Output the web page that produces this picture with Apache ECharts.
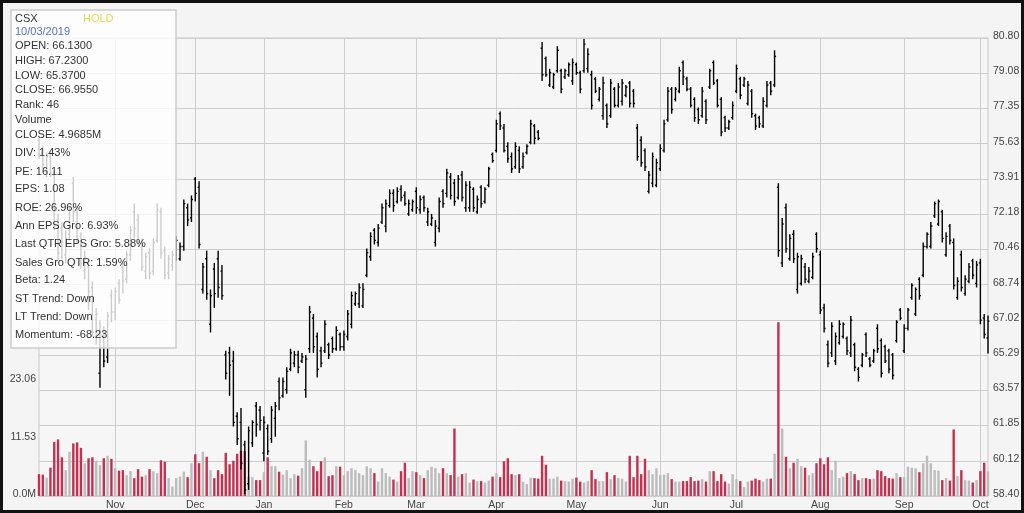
<!DOCTYPE html>
<html><head><meta charset="utf-8">
<script src="https://cdn.jsdelivr.net/npm/echarts@6/dist/echarts.min.js"></script>
<style>html,body{margin:0;padding:0;background:#f4f4f4;}#c{width:1024px;height:513px;}</style>
</head><body><div id="c"></div>
<script>
// ---------- DATA ----------
const tradingMonths = [
 [2018,10,[4,5,8,9,10,11,12,15,16,17,18,19,22,23,24,25,26,29,30,31]],
 [2018,11,[1,2,5,6,7,8,9,12,13,14,15,16,19,20,21,23,26,27,28,29,30]],
 [2018,12,[3,4,6,7,10,11,12,13,14,17,18,19,20,21,26,27,28,31]],
 [2019,1,[2,3,4,7,8,9,10,11,14,15,16,17,18,22,23,24,25,28,29,30,31]],
 [2019,2,[1,4,5,6,7,8,11,12,13,14,15,19,20,21,22,25,26,27,28]],
 [2019,3,[1,4,5,6,7,8,11,12,13,14,15,18,19,20,21,22,25,26,27,28,29]],
 [2019,4,[1,2,3,4,5,8,9,10,11,12,15,16,17,18,22,23,24,25,26,29,30]],
 [2019,5,[1,2,3,6,7,8,9,10,13,14,15,16,17,20,21,22,23,24,28,29,30,31]],
 [2019,6,[3,4,5,6,7,10,11,12,13,14,17,18,19,20,21,24,25,26,27,28]],
 [2019,7,[1,2,3,5,8,9,10,11,12,15,16,17,18,19,22,23,24,25,26,29,30,31]],
 [2019,8,[1,2,5,6,7,8,9,12,13,14,15,16,19,20,21,22,23,26,27,28,29,30]],
 [2019,9,[3,4,5,6,9,10,11,12,13,16,17,18,19,20,23,24,25,26,27,30]],
 [2019,10,[1,2,3]]
];
const monthNames = ['Jan','Feb','Mar','Apr','May','Jun','Jul','Aug','Sep','Oct','Nov','Dec'];
const priceTicks = ['58.40','60.12','61.85','63.57','65.29','67.02','68.74','70.46','72.18','73.91','75.63','77.35','79.08','80.80'];

const opens = [
 75.8,75.2,74.3,75.0,74.1,71.9,71.5,70.2,71.2,73.7,
 72.4,71.1,69.4,69.6,68.6,66.2,64.4,66.4,65.2,68.2,
 67.4,68.8,69.6,69.0,70.2,72.3,71.9,70.8,69.4,70.3,
 69.4,70.9,72.3,70.4,69.3,69.7,70.0,70.0,70.6,72.5,
 72.0,73.9,73.5,68.5,70.0,66.8,69.5,70.0,69.4,65.3,
 65.4,65.0,62.3,62.0,60.9,59.0,61.0,62.8,62.6,60.5,
 61.7,61.2,62.2,64.0,63.3,63.6,64.6,64.9,65.3,65.0,
 63.6,65.6,67.1,66.2,65.5,65.5,65.8,66.1,65.6,66.3,
 65.7,66.2,66.8,67.8,67.8,67.7,69.2,70.1,71.4,70.8,
 71.8,71.6,72.6,73.2,72.8,73.4,73.1,72.2,72.4,73.3,
 72.4,73.0,71.8,71.7,70.8,71.5,73.3,73.2,74.0,73.7,
 73.0,74.1,72.5,72.5,73.4,72.3,73.5,72.8,73.6,75.1,
 75.3,77.1,76.4,75.5,75.0,74.5,75.3,74.5,75.2,75.7,
 76.5,76.2,80.3,79.8,78.5,78.4,79.2,79.2,78.9,79.0,
 78.7,79.5,79.1,79.2,79.3,79.0,78.8,77.8,77.0,77.5,
 77.0,78.3,77.5,77.7,78.0,78.6,78.2,76.4,75.8,75.3,
 73.3,73.7,73.6,74.4,75.3,76.8,78.3,77.8,78.2,79.6,
 78.8,78.3,77.8,77.3,77.0,77.7,78.4,79.6,78.7,77.8,
 76.9,76.4,76.9,78.2,78.8,78.5,77.6,78.2,77.0,76.9,
 76.5,77.5,78.6,78.5,73.5,69.8,72.5,70.0,71.2,68.5,
 68.8,69.6,68.9,69.1,71.2,70.2,67.6,65.8,65.4,65.0,
 65.9,66.2,66.1,65.4,65.8,64.6,64.8,66.3,65.1,65.0,
 66.6,66.0,65.7,65.5,65.3,66.0,67.5,65.5,66.6,68.1,
 67.3,69.0,69.2,70.6,70.6,72.1,71.7,72.3,70.2,71.6,
 70.8,68.1,70.2,68.3,68.9,69.9,68.8,69.8,67.1,66.13
];
const highs = [
 76.0,75.5,75.2,75.3,74.3,72.2,71.8,71.4,72.6,74.0,
 72.6,71.3,70.4,70.0,68.9,67.6,67.0,66.7,67.4,68.5,
 68.6,69.0,69.9,70.4,71.6,72.7,72.2,71.0,70.3,70.5,
 71.0,72.7,72.5,70.6,70.2,70.4,71.1,70.8,72.9,72.7,
 73.1,74.0,73.8,69.8,70.4,68.5,69.8,70.4,69.7,65.5,
 65.7,65.5,62.5,62.7,61.1,61.8,62.1,63.0,62.8,62.3,
 61.9,62.8,63.0,64.2,64.2,64.7,65.6,65.5,65.5,65.4,
 65.3,67.7,67.3,66.4,65.7,67.0,65.9,66.2,66.7,66.4,
 66.5,67.5,68.4,68.4,68.8,68.8,70.5,71.3,71.5,71.7,
 72.7,72.9,73.4,73.4,73.5,73.6,73.3,72.9,72.9,73.5,
 73.1,73.1,72.5,72.2,71.9,73.0,73.4,74.4,74.2,73.9,
 74.1,74.3,73.8,73.8,73.5,73.1,73.6,73.5,74.5,75.2,
 76.8,77.2,76.6,75.7,75.2,75.7,75.5,75.2,75.6,76.8,
 76.6,76.3,80.6,79.9,79.3,79.1,80.4,79.3,79.3,79.6,
 79.8,79.6,79.2,80.75,80.3,79.2,78.9,78.4,78.9,77.6,
 78.8,78.4,78.6,78.8,78.5,78.7,78.3,76.6,76.0,75.4,
 74.3,75.2,74.9,75.6,76.8,78.4,78.4,78.4,79.4,79.7,
 78.9,78.4,77.9,77.4,78.4,77.8,79.3,79.7,78.8,77.9,
 77.0,76.8,77.7,79.5,78.9,78.9,78.7,78.3,77.1,77.0,
 77.9,78.7,78.7,80.2,73.7,72.0,72.7,71.2,71.4,70.3,
 70.2,69.8,69.6,70.3,71.3,70.4,67.8,66.0,66.9,66.4,
 67.0,66.9,66.2,67.2,65.9,64.7,65.4,66.4,65.2,65.6,
 66.8,66.1,65.8,65.6,65.4,67.0,67.6,66.8,67.6,68.8,
 68.6,69.1,70.8,71.3,71.8,72.8,72.9,72.4,71.3,71.7,
 71.0,69.1,70.4,69.2,69.8,70.0,69.9,70.0,67.3,67.23
];
const lows = [
 74.9,74.4,74.0,74.0,71.4,69.9,70.0,69.8,70.9,71.8,
 70.8,69.5,69.0,67.5,66.2,65.8,63.7,64.7,64.9,66.9,
 67.0,67.8,68.3,68.8,69.9,71.0,70.6,69.4,69.0,69.0,
 69.2,70.8,70.0,69.0,69.0,69.4,69.9,69.9,70.4,71.6,
 71.8,72.8,70.5,68.3,68.0,66.4,67.6,68.1,68.0,64.1,
 63.3,61.8,60.9,59.7,58.5,58.7,60.8,61.3,61.6,60.1,
 60.4,61.0,61.3,62.6,63.2,63.4,64.5,64.7,64.4,64.9,
 63.2,65.4,65.4,64.2,64.7,65.4,65.1,65.4,65.5,65.5,
 65.5,66.0,66.6,67.7,67.6,67.6,69.1,69.9,70.7,70.6,
 71.7,71.3,72.5,72.3,72.7,72.8,72.6,72.1,72.3,72.2,
 72.2,72.3,71.6,71.6,70.6,71.3,72.5,73.0,72.9,72.6,
 72.9,72.8,72.3,72.3,72.3,72.2,72.5,72.7,73.5,74.7,
 75.2,76.3,75.2,74.7,74.2,74.4,74.2,74.4,75.1,75.6,
 75.6,75.8,78.7,78.9,78.4,78.3,79.1,78.1,78.8,78.9,
 78.5,79.0,78.1,79.1,79.1,77.3,78.1,77.7,76.8,76.4,
 76.9,77.4,77.4,77.5,77.9,77.4,77.4,74.8,74.5,74.3,
 73.2,73.5,73.5,74.3,75.2,76.7,77.1,77.7,78.1,78.5,
 78.2,77.4,76.7,76.6,76.9,76.6,78.3,78.5,77.4,76.0,
 76.2,76.3,76.8,78.1,77.8,78.4,77.5,76.9,76.3,76.4,
 76.4,77.4,78.0,78.4,70.1,69.6,70.3,69.9,69.8,68.3,
 68.7,68.8,68.8,69.0,70.3,67.3,66.4,64.7,65.2,64.8,
 65.8,66.1,65.3,65.2,64.5,64.0,64.7,65.2,64.7,64.9,
 65.4,64.2,64.9,64.4,64.1,65.9,67.0,65.4,66.5,68.0,
 67.2,68.0,69.1,70.5,70.5,72.0,71.6,70.8,70.1,70.7,
 68.5,68.0,68.4,68.2,68.8,69.0,68.6,66.8,66.1,65.37
];
const closes = [
 75.1,74.6,75.0,74.2,71.6,70.3,70.8,71.0,72.4,72.3,
 71.0,69.8,70.1,68.4,66.4,67.3,66.3,65.0,67.2,67.4,
 68.4,68.0,68.9,70.2,71.4,71.5,70.8,69.6,70.1,69.3,
 70.8,72.4,70.3,69.2,70.0,70.2,70.9,70.6,72.7,71.9,
 72.9,73.2,70.7,69.6,68.3,68.2,68.3,68.6,68.2,64.4,
 64.8,62.0,61.2,60.0,58.7,61.6,62.0,61.9,62.1,62.0,
 60.6,62.6,62.8,63.2,64.0,64.5,65.4,65.3,64.7,65.2,
 65.1,67.4,65.7,64.6,64.9,66.8,65.3,65.6,66.5,65.7,
 66.3,67.3,68.2,68.3,68.6,68.5,70.3,71.1,70.9,71.5,
 72.5,72.7,73.2,72.6,73.3,73.0,72.7,72.7,72.8,72.5,
 72.9,72.5,72.3,72.0,71.6,72.8,72.7,74.2,73.1,72.8,
 73.9,73.0,73.6,73.5,72.5,72.9,72.7,73.4,74.4,74.8,
 76.6,76.5,75.3,74.9,74.4,75.5,74.4,75.0,75.5,76.6,
 75.9,75.9,79.0,79.0,79.1,79.0,80.2,78.3,79.2,79.5,
 79.6,79.1,78.3,80.5,80.0,77.5,78.2,78.3,78.6,76.6,
 78.6,77.5,78.4,78.6,78.4,77.6,77.6,75.0,74.7,74.5,
 74.1,75.0,74.7,75.4,76.6,78.2,77.3,78.3,79.2,78.9,
 78.3,77.5,76.9,76.8,78.2,76.8,79.2,78.6,77.5,76.2,
 76.4,76.7,77.5,79.3,78.0,78.8,78.5,77.1,76.5,76.6,
 77.7,78.5,78.2,79.9,70.4,71.7,70.5,71.0,70.0,70.1,
 70.0,69.0,69.4,70.1,70.5,67.5,66.6,64.9,66.7,66.2,
 66.8,66.8,65.5,67.0,64.7,64.2,65.3,65.4,64.8,65.5,
 65.6,64.4,65.0,64.6,64.3,66.9,67.1,66.6,67.5,68.7,
 68.5,68.2,70.6,71.2,71.6,72.7,72.8,71.0,71.1,70.9,
 68.7,68.9,68.6,69.0,69.6,69.2,69.7,67.0,66.3,66.955
];
// volume, millions
const volumes = [
 4.4,4.3,3.7,5.7,10.9,11.4,7.8,5.2,8.9,10.6,
 10.8,9.7,6.6,7.6,7.8,7.1,6.2,7.6,8.1,7.5,
 5.6,5.1,5.2,4.2,5.0,3.6,5.4,3.9,4.2,5.4,
 5.0,4.6,7.2,6.9,3.6,1.9,3.6,3.9,4.9,3.8,
 6.6,8.4,6.6,8.9,7.9,5.2,3.6,5.2,4.4,8.7,
 6.4,7.1,8.5,9.1,9.0,3.9,3.8,3.2,3.2,4.8,
 7.8,6.0,6.0,4.9,4.3,5.2,3.6,4.4,4.1,5.6,
 11.2,7.3,6.0,5.0,7.0,7.8,4.0,4.2,6.0,5.9,
 4.2,5.0,5.6,5.2,4.6,4.2,6.0,5.6,4.6,2.9,
 5.6,4.6,3.9,3.3,2.9,5.0,6.7,3.6,5.0,4.8,
 4.2,3.6,5.2,5.9,5.6,4.6,5.6,4.6,4.2,13.6,
 3.9,4.4,4.6,2.7,3.3,3.0,3.0,2.7,3.1,3.9,
 4.6,3.8,7.0,7.6,4.4,4.2,4.4,2.9,2.4,3.7,
 3.6,3.5,8.1,6.3,3.5,3.5,3.9,3.1,3.0,2.9,
 3.5,3.7,2.9,2.7,3.0,5.2,3.4,3.0,3.0,4.8,
 3.4,4.2,3.6,3.5,2.9,8.1,3.8,8.1,4.4,7.5,
 5.2,4.4,5.6,4.2,4.3,4.6,3.4,2.9,2.9,3.0,
 3.0,3.8,3.0,3.1,3.4,2.9,5.0,5.0,3.0,4.4,
 2.9,2.5,4.4,3.4,3.0,1.8,2.9,3.1,3.5,3.2,
 2.9,3.5,3.5,8.5,35.0,13.6,7.9,5.6,6.7,7.5,
 6.0,5.7,4.2,4.6,6.6,7.6,6.4,7.8,5.2,7.1,
 3.6,3.9,4.6,5.0,4.4,3.2,3.6,3.6,3.4,3.5,
 5.2,5.0,4.0,3.6,3.5,4.6,3.8,3.8,5.9,5.7,
 5.6,4.8,6.6,8.1,6.6,5.2,5.1,3.2,3.6,3.1,
 13.4,4.0,5.2,3.2,3.1,2.7,3.2,5.0,6.7,4.9685
];
const infoLines = ['CSX','10/03/2019','OPEN: 66.1300','HIGH: 67.2300','LOW: 65.3700','CLOSE: 66.9550','Rank: 46','Volume','CLOSE: 4.9685M','DIV: 1.43%','PE: 16.11','EPS: 1.08','ROE: 26.96%','Ann EPS Gro: 6.93%','Last QTR EPS Gro: 5.88%','Sales Gro QTR: 1.59%','Beta: 1.24','ST Trend: Down','LT Trend: Down','Momentum: -68.23'];
const ratingText = 'HOLD';

// ---------- BUILD ----------
const dates = []; const monthStart = new Set();
tradingMonths.forEach(([y,m,days],k)=>{
  days.forEach((d,j)=>{
    if(k>0 && j===0) monthStart.add(dates.length);
    dates.push(y+'-'+String(m).padStart(2,'0')+'-'+String(d).padStart(2,'0'));
  });
});
const FONT = '"Liberation Sans", Arial, Helvetica, sans-serif';
const infoY = [19,32.3,46,61,75.7,90,105.3,119.7,134.7,153.3,171.7,189,207.7,226,244,262.7,280.3,299,317,335.3];

const ohlc = opens.map((o,i)=>[i,o,highs[i],lows[i],closes[i]]);
const volData = volumes.map((v,i)=>({value:v,itemStyle:{color: closes[i]<opens[i] ? '#c62f4f' : '#bcbcbc'}}));

function renderItem(params, api){
  const i = api.value(0);
  const pO = api.coord([i, api.value(1)]);
  const pH = api.coord([i, api.value(2)]);
  const pL = api.coord([i, api.value(3)]);
  const pC = api.coord([i, api.value(4)]);
  const x = pO[0], t = 1.5;
  const st = {stroke:'#000', lineWidth:1.4};
  return {type:'group', children:[
    {type:'line', shape:{x1:x,y1:pH[1],x2:x,y2:pL[1]}, style:st},
    {type:'line', shape:{x1:x-t,y1:pO[1],x2:x,y2:pO[1]}, style:st},
    {type:'line', shape:{x1:x,y1:pC[1],x2:x+t,y2:pC[1]}, style:st}
  ]};
}

const graphics = [
  {type:'rect', shape:{x:11,y:10,width:165,height:338}, style:{fill:'rgba(255,255,255,0.8)', stroke:'#cccccc', lineWidth:1.5}, z:100, silent:true}
];
infoLines.forEach((t,k)=>{
  graphics.push({type:'text', x:15, y:infoY[k], z:101, silent:true,
    style:{text:t, fill: k===1 ? '#5170d6' : '#333333', fontSize:11, fontFamily:FONT, verticalAlign:'middle'}});
});
graphics.push({type:'text', x:83, y:infoY[0], z:101, silent:true, style:{text:ratingText, fill:'#f0d548', fontSize:11, fontFamily:FONT, verticalAlign:'middle'}});
graphics.push({type:'rect', shape:{x:0,y:0,width:1024,height:513}, style:{fill:null, stroke:'#111111', lineWidth:6}, z:200, silent:true});

const axisLabelBase = {color:'#444', fontSize:10.5, fontFamily:FONT, verticalAlign:'bottom', lineHeight:4};

const chart = echarts.init(document.getElementById('c'));
chart.setOption({
  animation:false,
  backgroundColor:'#f4f4f4',
  grid:{left:39, right:36, top:38, bottom:17, show:true, borderColor:'#c8c8c8', borderWidth:1, backgroundColor:'#f6f6f6'},
  xAxis:{type:'category', data:dates, boundaryGap:false,
    axisLine:{show:false}, axisTick:{show:false},
    axisLabel:{interval:(i)=>monthStart.has(i), formatter:(v)=>monthNames[+v.slice(5,7)-1], color:'#444', fontSize:10.5, fontFamily:FONT, margin:4},
    splitLine:{show:true, interval:(i)=>monthStart.has(i), lineStyle:{color:'#cdcdcd', width:1}}},
  yAxis:[
    {type:'value', min:58.4, max:80.8, position:'right', show:false},
    {type:'category', data:priceTicks, position:'right', boundaryGap:false,
      axisLine:{show:false}, axisTick:{show:false},
      axisLabel:Object.assign({interval:0, margin:5}, axisLabelBase),
      splitLine:{show:true, interval:0, lineStyle:{color:'#cdcdcd', width:1}}},
    {type:'value', min:0, max:92.24, interval:11.53, position:'left',
      axisLine:{show:false}, axisTick:{show:false}, splitLine:{show:false},
      axisLabel:Object.assign({margin:3,
        formatter:(v)=> v===0 ? '0.0M' : (v < 23.1 ? v.toFixed(2) : '')}, axisLabelBase)}
  ],
  series:[
    {type:'bar', xAxisIndex:0, yAxisIndex:2, data:volData, barWidth:2.4, z:1, silent:true},
    {type:'custom', xAxisIndex:0, yAxisIndex:0, data:ohlc, encode:{x:0,y:[1,2,3,4]}, renderItem, z:3, silent:true}
  ],
  graphic:graphics
});
</script></body></html>
